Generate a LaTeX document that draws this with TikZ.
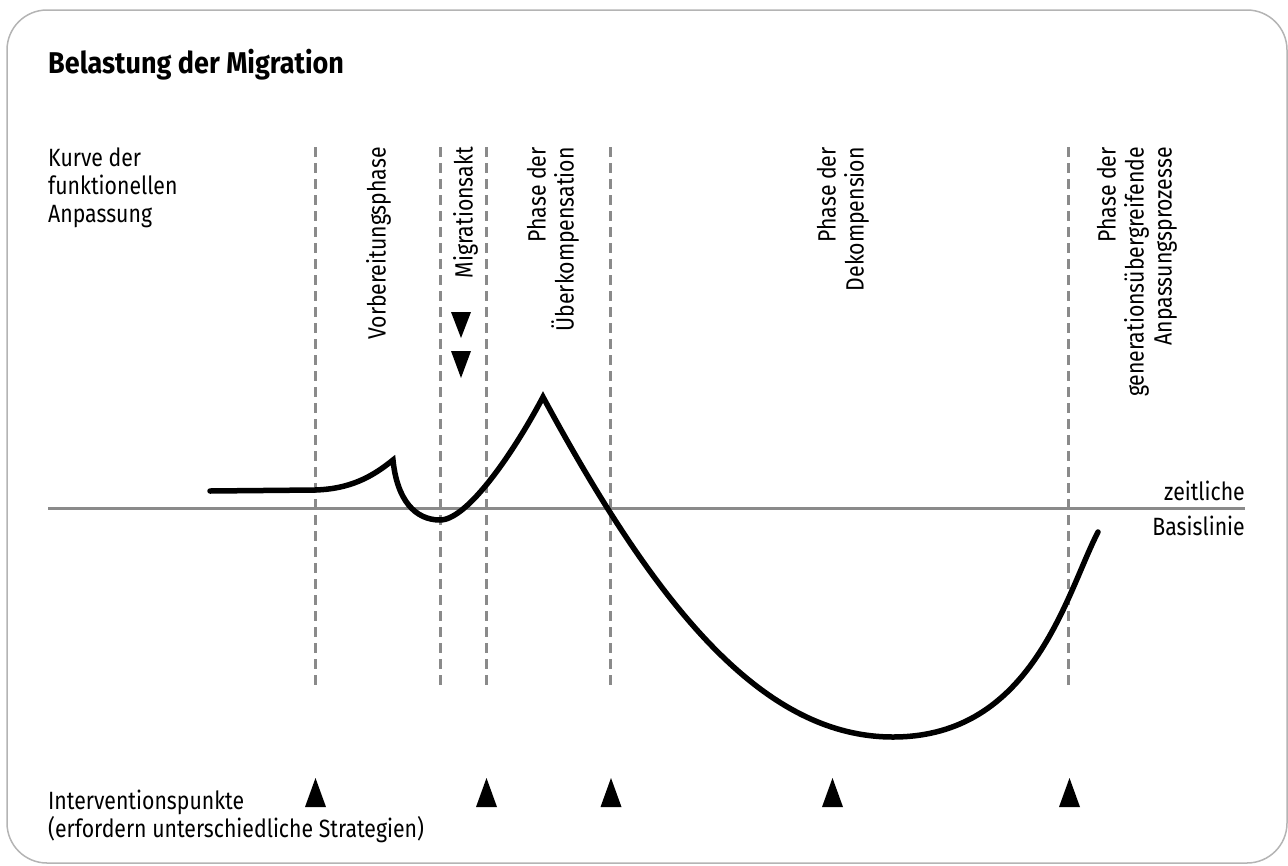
\documentclass[tikz,border=0pt]{standalone}
\usepackage{fontspec}
\setmainfont{Fira Sans}[FakeStretch=0.85]
\newfontfamily\titlefont{Fira Sans}[FakeStretch=0.9]
\begin{document}
\begin{tikzpicture}[x=1pt,y=-1pt,
  txt/.style={inner sep=0pt,font=\fontsize{25}{28}\selectfont},
  vlabel/.style={txt,rotate=90,anchor=east,align=right},
  phaseline/.style={draw=linegray,line width=3pt,dash pattern=on 10pt off 6pt},
  baseline/.style={draw=linegray,line width=3pt},
  curve/.style={draw=black,line width=5.5pt,line cap=round,line join=miter},
  tri/.style={fill=black}
]
\definecolor{linegray}{HTML}{8A8A8A}
\definecolor{framegray}{HTML}{B4B4B4}
\useasboundingbox (0,0) rectangle (1288,865);
\draw[framegray,line width=1.5pt,rounded corners=40pt] (7,10) rectangle (1287,863);

% title
\node[inner sep=0pt,anchor=base west,font=\titlefont\fontsize{30}{34}\selectfont\bfseries] (title) at (48,73) {Belastung der Migration};

% left label
\node[txt,anchor=north west,align=left] (kurve) at (48,148) {Kurve der\\funktionellen\\Anpassung};

% dashed phase lines
\foreach \x/\n in {315/l1,440/l2,486/l3,610/l4,1068/l5}{
  \coordinate (\n t) at (\x,147);
  \coordinate (\n b) at (\x,690);
  \draw[phaseline] (\n t) -- (\n b);
}

% baseline
\coordinate (bl0) at (48,508);
\coordinate (bl1) at (1245,508);
\draw[baseline] (bl0) -- (bl1);
\node[txt,anchor=base east] (zeit) at (1245,500) {zeitliche};
\node[txt,anchor=base east] (basis) at (1245,535) {Basislinie};

% phase labels
\node[vlabel] (vorb) at (378.5,147) {Vorbereitungsphase};
\node[vlabel] (migr) at (465.5,147) {Migrationsakt};
\node[vlabel] (ueber) at (553,147) {Phase der\\Überkompensation};
\node[vlabel] (dekomp) at (843,147) {Phase der\\Dekompension};
\node[vlabel] (gener) at (1137,147) {Phase der\\generationsübergreifende\\Anpassungsprozesse};

% down triangles (migration act)
\fill[tri] (451,312) -- (471,312) -- (461,338) -- cycle;
\fill[tri] (451,351) -- (471,351) -- (461,378) -- cycle;

% curve
\draw[curve] (210,491) -- (315,490)
  .. controls (350,489) and (372,477) .. (393,460)
  .. controls (397,500) and (415,520) .. (440,520)
  .. controls (468,520) and (515,450) .. (543,397)
  .. controls (657,608) and (763,737) .. (893,737)
  .. controls (1033,737) and (1066,594) .. (1098,532);

% intervention points
\foreach \x in {315.5,486.5,611,832.5,1069.5}{
  \fill[tri] (\x-10.5,807) -- (\x+10.5,807) -- (\x,778) -- cycle;
}
\node[txt,anchor=north west,align=left] (interv) at (48,790) {Interventionspunkte\\(erfordern unterschiedliche Strategien)};
\end{tikzpicture}
\end{document}
